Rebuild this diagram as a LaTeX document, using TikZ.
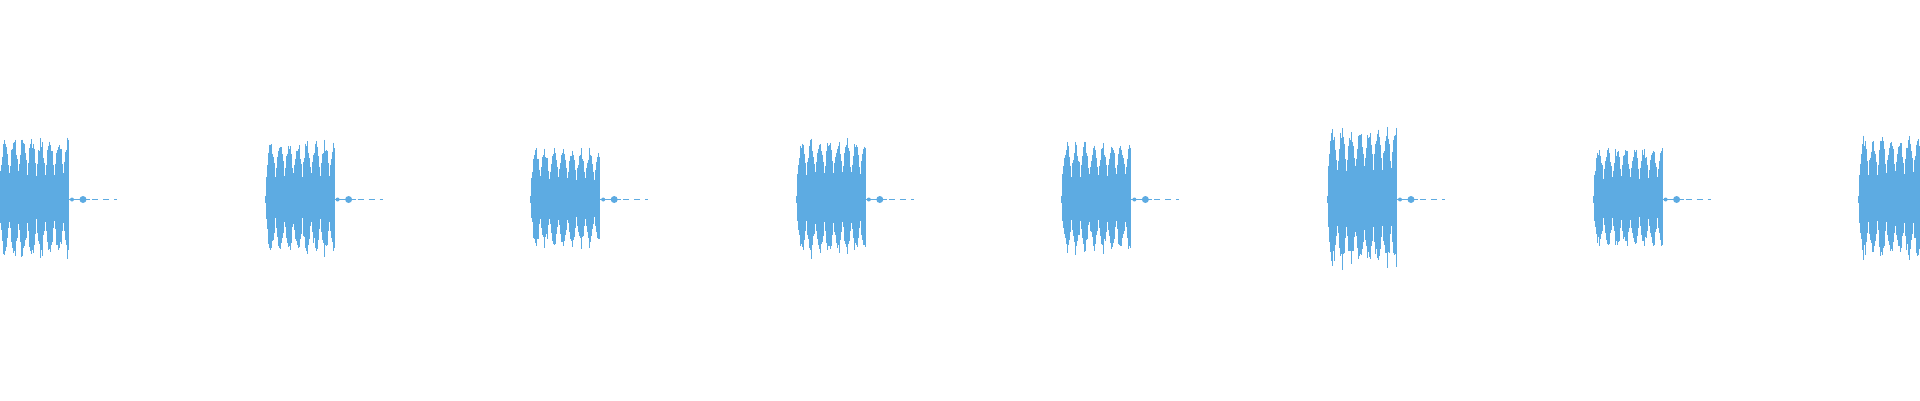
\documentclass[tikz,border=0pt]{standalone}
\definecolor{wave}{RGB}{93,171,226}
\begin{document}
\begin{tikzpicture}[x=1pt,y=-1pt,wv/.style={draw=wave,line width=1.15pt},
  tail/.style={draw=wave,line width=1pt},dsh/.style={draw=wave,line width=1pt,dash pattern=on 6pt off 5pt}]
\useasboundingbox (0,0) rectangle (1920,400);
\pgfmathsetseed{7}
\foreach \i/\A in {0/64,1/60,2/52,3/62,4/58,5/74,6/54,7/64}{
  \pgfmathsetmacro{\xo}{\i*265.6}
  \fill[wave] (\xo,188) rectangle ({\xo+69},211);
  \foreach \j in {0,1,...,68}{
    \pgfmathsetmacro{\h}{\A*(0.45+0.55*abs(sin(\j*20)))*(0.8+0.2*rnd)}
    \pgfmathsetmacro{\hb}{\h*(0.85+0.15*rnd)}
    \pgfmathsetmacro{\xx}{\xo+\j+0.5}
    \pgfmathsetmacro{\ya}{199-\h}
    \pgfmathsetmacro{\yb}{199+\hb}
    \draw[wv] (\xx,\ya) -- (\xx,\yb);
  }
  \fill[wave] ({\xo-1},196) rectangle ({\xo+1},203);
  \draw[tail] ({\xo+69},199.5) -- ({\xo+80},199.5);
  \fill[wave] ({\xo+72},199.5) circle (2pt);
  \fill[wave] ({\xo+83},199.5) circle (3.5pt);
  \draw[tail] ({\xo+83},199.5) -- ({\xo+90},199.5);
  \draw[dsh] ({\xo+92},199.5) -- ({\xo+117},199.5);
}
\end{tikzpicture}
\end{document}
